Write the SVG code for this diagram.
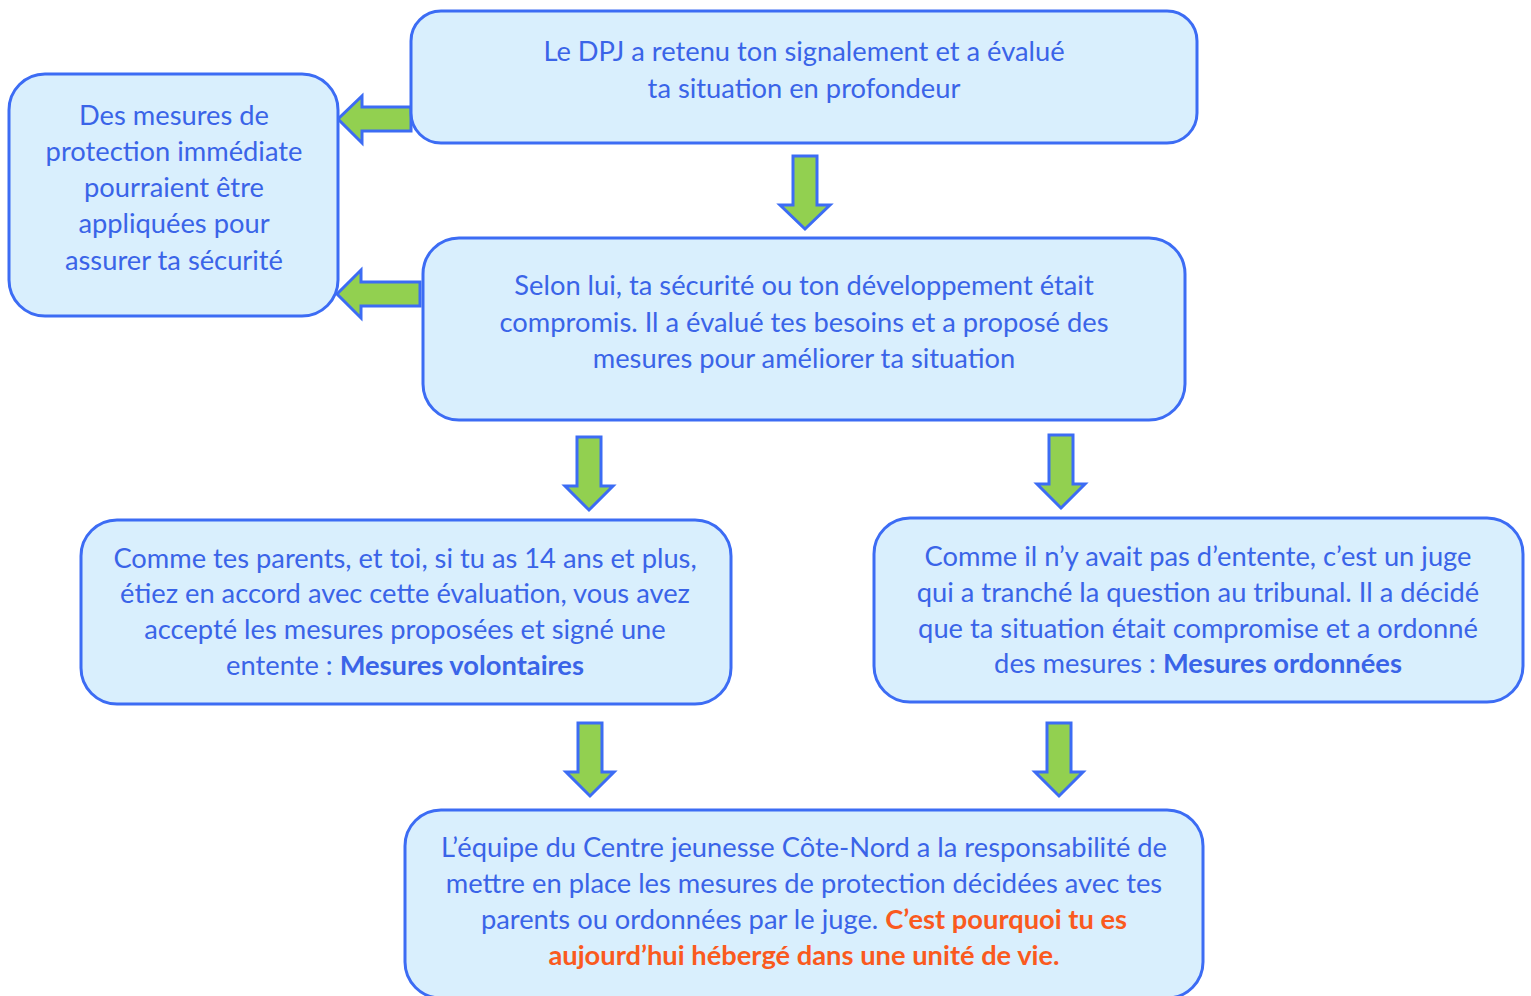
<svg xmlns="http://www.w3.org/2000/svg" width="1531" height="996" viewBox="0 0 1531 996">
<style>
.box{fill:#d9effd;stroke:#3c6cf4;stroke-width:3}
.arr{fill:#92d050;stroke:#3c6cf4;stroke-width:3;stroke-linejoin:miter}
text{font-family:Lato,"Open Sans",sans-serif;font-size:27.3px;fill:#3a64e8;text-anchor:middle}
.b{font-weight:bold}
.o{fill:#fa5a1e;font-weight:bold}
</style>
<rect width="1531" height="996" fill="#ffffff"/>
<g id="connectors">
<polygon class="arr" points="411,107 362,107 362,96 338,119 362,143 362,131 411,131"/>
<polygon class="arr" points="420,282 361,282 361,270 337,294 361,318 361,306 420,306"/>
<polygon class="arr" points="793,156 817,156 817,205 830,205 805,229 780,205 793,205"/>
<polygon class="arr" points="577,437 601,437 601,486 613,486 589,510 565,486 577,486"/>
<polygon class="arr" points="1049,435 1073,435 1073,484 1085,484 1061,508 1037,484 1049,484"/>
<polygon class="arr" points="578,723 602,723 602,772 614,772 590,796 566,772 578,772"/>
<polygon class="arr" points="1047,723 1071,723 1071,772 1083,772 1059,796 1035,772 1047,772"/>
</g>
<g id="nodeA">
<rect class="box" x="411" y="11" width="786" height="132" rx="30"/>
<text x="804" y="61">Le DPJ a retenu ton signalement et a évalué</text>
<text x="804" y="98">ta situation en profondeur</text>
</g>
<g id="nodeB">
<rect class="box" x="9" y="74" width="329" height="242" rx="36"/>
<text x="174" y="125">Des mesures de</text>
<text x="174" y="161">protection immédiate</text>
<text x="174" y="197">pourraient être</text>
<text x="174" y="233">appliquées pour</text>
<text x="174" y="270">assurer ta sécurité</text>
</g>
<g id="nodeC">
<rect class="box" x="423" y="238" width="762" height="182" rx="36"/>
<text x="804" y="295">Selon lui, ta sécurité ou ton développement était</text>
<text x="804" y="332">compromis. Il a évalué tes besoins et a proposé des</text>
<text x="804" y="368">mesures pour améliorer ta situation</text>
</g>
<g id="nodeD">
<rect class="box" x="81" y="520" width="650" height="184" rx="36"/>
<text x="405" y="568">Comme tes parents, et toi, si tu as 14 ans et plus,</text>
<text x="405" y="603">étiez en accord avec cette évaluation, vous avez</text>
<text x="405" y="639">accepté les mesures proposées et signé une</text>
<text x="405" y="675">entente : <tspan class="b">Mesures volontaires</tspan></text>
</g>
<g id="nodeE">
<rect class="box" x="874" y="518" width="649" height="184" rx="36"/>
<text x="1198" y="566">Comme il n’y avait pas d’entente, c’est un juge</text>
<text x="1198" y="602">qui a tranché la question au tribunal. Il a décidé</text>
<text x="1198" y="638">que ta situation était compromise et a ordonné</text>
<text x="1198" y="673">des mesures : <tspan class="b">Mesures ordonnées</tspan></text>
</g>
<g id="nodeF">
<rect class="box" x="405" y="810" width="798" height="188" rx="36"/>
<text x="804" y="857">L’équipe du Centre jeunesse Côte-Nord a la responsabilité de</text>
<text x="804" y="893">mettre en place les mesures de protection décidées avec tes</text>
<text x="804" y="929">parents ou ordonnées par le juge. <tspan class="o">C’est pourquoi tu es</tspan></text>
<text x="804" y="965" class="o">aujourd’hui hébergé dans une unité de vie.</text>
</g>
</svg>
